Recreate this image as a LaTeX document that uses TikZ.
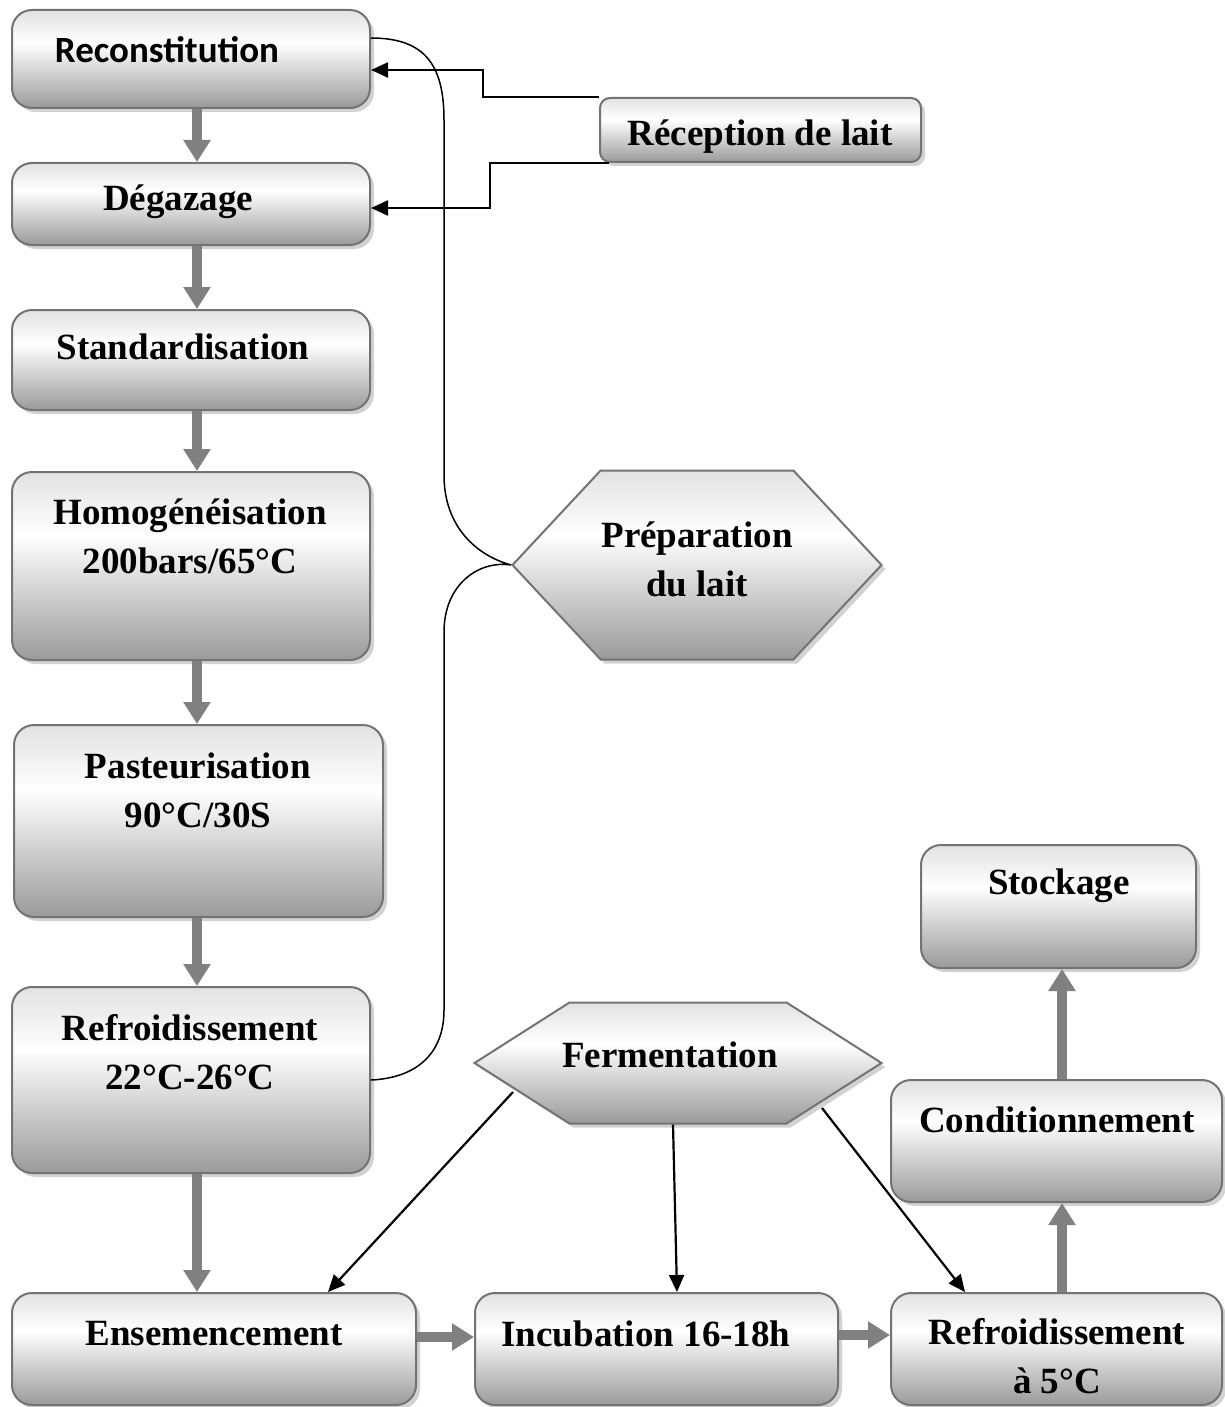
\documentclass[tikz,border=0pt]{standalone}
\usepackage{fontspec}
\setmainfont{Liberation Serif}
\newfontfamily\calib{Carlito}
\usetikzlibrary{arrows.meta,shapes.symbols,shadows}

\definecolor{boxedge}{HTML}{737373}
\definecolor{pipegray}{HTML}{808080}
\definecolor{shadelow}{HTML}{9A9A9A}
\definecolor{shadehigh}{HTML}{E2E2E2}
\pgfdeclareverticalshading{stepshade}{100bp}{color(0bp)=(shadelow); color(25bp)=(shadelow); color(58bp)=(white); color(75bp)=(shadehigh); color(100bp)=(shadehigh)}

\tikzset{
  stepbox/.style={draw=boxedge, line width=2pt, rounded corners=#1, shading=stepshade,
    drop shadow={shadow xshift=4pt, shadow yshift=-4pt, fill=black!35, opacity=.5}},
  stepbox/.default=20pt,
  hexbox/.style={signal, signal to=east and west, signal pointer angle=#1, draw=boxedge, line width=2pt,
    shading=stepshade, drop shadow={shadow xshift=4pt, shadow yshift=-4pt, fill=black!35, opacity=.5}},
  txt/.style={font=\bfseries\fontsize{37}{49}\selectfont, align=center, inner sep=0pt},
  pipe/.style={pipegray, line width=10pt, -{Triangle[length=22pt,width=26pt]}},
  flow/.style={line width=2.2pt, -{Triangle[length=17pt,width=15pt]}},
}

\begin{document}
\begin{tikzpicture}[x=1pt,y=-1pt]
\useasboundingbox (0,0) rectangle (1224,1407);
\coordinate (spine) at (197,0);
\coordinate (rise) at (1062,0);

\node[stepbox, minimum width=358pt, minimum height=98pt] (recon) at (191,59) {};
\node[txt, font=\calib\bfseries\fontsize{37}{49}\selectfont] (recon-t) at (167,50) {Reconstitution};
\node[stepbox, minimum width=358pt, minimum height=82pt] (deg) at (191,204) {};
\node[txt] (deg-t) at (178,202) {Dégazage};
\node[stepbox, minimum width=358pt, minimum height=100pt] (std) at (191,360) {};
\node[txt] (std-t) at (183,347) {Standardisation};
\node[stepbox, minimum width=358pt, minimum height=188pt] (homo) at (191,566) {};
\node[txt] (homo-t) at (190,536) {Homogénéisation\\200bars/65°C};
\node[stepbox, minimum width=369pt, minimum height=192pt] (past) at (198.5,821) {};
\node[txt] (past-t) at (198,790) {Pasteurisation\\90°C/30S};
\node[stepbox, minimum width=358pt, minimum height=186pt] (refr1) at (191,1080) {};
\node[txt] (refr1-t) at (190,1052) {Refroidissement\\22°C-26°C};

\node[stepbox, minimum width=404pt, minimum height=112pt] (ense) at (214,1349) {};
\node[txt] (ense-t) at (214,1334) {Ensemencement};
\node[stepbox, minimum width=363pt, minimum height=112pt] (incub) at (656.5,1349) {};
\node[txt] (incub-t) at (646,1334) {Incubation 16-18h};
\node[stepbox, minimum width=331pt, minimum height=112pt] (refr2) at (1056.5,1349) {};
\node[txt] (refr2-t) at (1057,1356) {Refroidissement\\à 5°C};
\node[stepbox, minimum width=331pt, minimum height=122pt] (cond) at (1056.5,1141) {};
\node[txt] (cond-t) at (1057,1120) {Conditionnement};
\node[stepbox, minimum width=275pt, minimum height=123pt] (stock) at (1058.5,906.5) {};
\node[txt] (stock-t) at (1059,886) {Stockage};

\node[stepbox=10pt, minimum width=321pt, minimum height=64pt] (recep) at (760.5,130) {};
\node[txt] (recep-t) at (760,137) {Réception de lait};
\node[hexbox=94, minimum width=369pt, minimum height=189pt] (prep) at (697,565) {};
\node[txt] (prep-t) at (697,559) {Préparation\\du lait};
\node[hexbox=65, minimum width=407pt, minimum height=121pt] (ferm) at (678,1063) {};
\node[txt] (ferm-t) at (670,1055) {Fermentation};

\draw[pipe] (recon.south -| spine) -- (deg.north -| spine);
\draw[pipe] (deg.south -| spine) -- (std.north -| spine);
\draw[pipe] (std.south -| spine) -- (homo.north -| spine);
\draw[pipe] (homo.south -| spine) -- (past.north -| spine);
\draw[pipe] (past.south -| spine) -- (refr1.north -| spine);
\draw[pipe] (refr1.south -| spine) -- (ense.north -| spine);
\draw[pipe] ([yshift=12pt]ense.east) -- ([yshift=12pt]ense.east -| incub.west);
\draw[pipe] ([yshift=14pt]incub.east) -- ([yshift=14pt]incub.east -| refr2.west);
\draw[pipe] (refr2.north -| rise) -- (cond.south -| rise);
\draw[pipe] (cond.north -| rise) -- (stock.south -| rise);

\draw[flow] (recep.north west) -- ++(-116,0) |- ([yshift=-11pt]recon.east);
\draw[flow] ([xshift=10pt]recep.south west) -- ++(-119,0) |- ([yshift=-4pt]deg.east);

\draw[line width=1.5pt] ([yshift=21pt]recon.east) .. controls (425,38) and (444,65) .. (444,120)
  -- (444,475) .. controls (444,528) and (478,556) .. (prep.west)
  .. controls (478,560) and (444,585) .. (444,632) -- (444,1010)
  .. controls (444,1055) and (415,1078) .. (refr1.east);

\draw[flow] ([xshift=-165pt,yshift=-29pt]ferm.center) -- ([xshift=114pt]ense.north);
\draw[flow] ([xshift=-5pt]ferm.south) -- ([xshift=20.5pt]incub.north);
\draw[flow] ([xshift=144pt,yshift=-45pt]ferm.center) -- ([xshift=-91.5pt]refr2.north);
\end{tikzpicture}
\end{document}
